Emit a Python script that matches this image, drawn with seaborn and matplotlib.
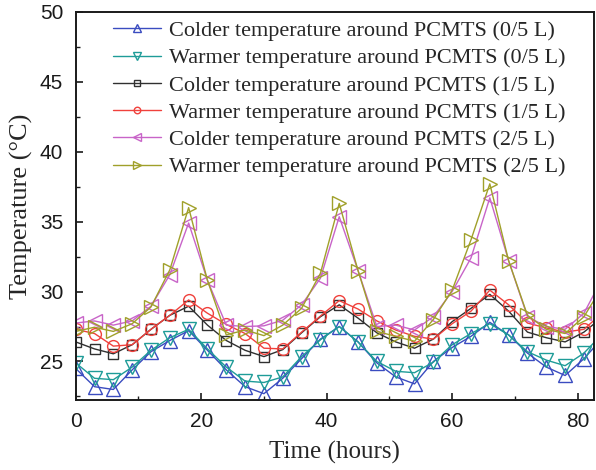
import numpy as np
import pandas as pd
import matplotlib
matplotlib.use("Agg")
import matplotlib.pyplot as plt
import seaborn as sns
from matplotlib.ticker import MultipleLocator

# ---- data ----
hours = [0, 3, 6, 9, 12, 15, 18, 21, 24, 27, 30, 33, 36, 39, 42, 45, 48, 51, 54, 57,
         60, 63, 66, 69, 72, 75, 78, 81, 84]

colder_0_5 = [24.5, 23.2, 23.0, 24.4, 25.7, 26.5, 27.2, 25.8, 24.4, 23.2, 22.7, 23.8, 25.2, 26.6,
              27.5, 26.4, 24.9, 23.9, 23.4, 25.0, 26.0, 26.8, 27.8, 26.9, 25.6, 24.6, 24.0, 25.2, 26.7]
warmer_0_5 = [24.9, 23.8, 23.7, 24.6, 25.8, 26.7, 27.3, 25.9, 24.6, 23.6, 23.5, 23.9, 25.35, 26.55,
              27.5, 26.4, 25.0, 24.3, 24.2, 24.95, 26.2, 27.0, 27.7, 26.9, 25.7, 25.1, 24.7, 25.6, 27.0]
colder_1_5 = [26.4, 25.9, 25.55, 26.2, 27.3, 28.3, 28.95, 27.6, 26.5, 25.8, 25.35, 25.85, 27.05, 28.2,
              29.05, 28.1, 27.05, 26.4, 25.95, 26.6, 27.85, 28.8, 29.8, 28.6, 27.1, 26.7, 26.4, 27.1, 28.2]
warmer_1_5 = [27.3, 27.0, 26.1, 26.2, 27.3, 28.3, 29.4, 28.45, 27.65, 27.0, 25.95, 25.9, 27.1, 28.25,
              29.35, 28.75, 27.9, 27.25, 26.8, 26.6, 27.7, 28.6, 30.1, 29.05, 27.75, 27.4, 27.1, 27.3, 28.5]
colder_2_5 = [27.75, 27.9, 27.6, 27.9, 28.95, 31.2, 34.9, 30.8, 27.6, 27.5, 27.55, 27.95, 29.05, 30.95,
              35.35, 31.5, 27.5, 27.6, 27.25, 28.2, 30.0, 32.4, 36.7, 32.2, 28.2, 27.5, 27.3, 28.45, 31.0]
warmer_2_5 = [27.15, 27.45, 27.15, 27.7, 28.9, 31.55, 36.0, 30.8, 26.9, 27.25, 26.85, 27.6, 28.8, 31.3,
              36.3, 31.5, 27.15, 26.8, 26.45, 28.0, 30.1, 33.7, 37.7, 32.2, 28.3, 27.3, 27.0, 28.2, 30.4]

series_labels = [
    "Colder temperature around PCMTS (0/5 L)",
    "Warmer temperature around PCMTS (0/5 L)",
    "Colder temperature around PCMTS (1/5 L)",
    "Warmer temperature around PCMTS (1/5 L)",
    "Colder temperature around PCMTS (2/5 L)",
    "Warmer temperature around PCMTS (2/5 L)",
]
series_values = [colder_0_5, warmer_0_5, colder_1_5, warmer_1_5, colder_2_5, warmer_2_5]

# ---- styles ----
colors = ["#3a4cc0", "#1e9c98", "#303030", "#f0413c", "#c864c8", "#a0a02a"]
markers = ["^", "v", "s", "o", "<", ">"]
msizes = [9.5, 9.5, 7, 8.5, 9.5, 9.5]

sns.set_theme(style="white")
plt.rcParams["font.family"] = ["Liberation Sans", "DejaVu Sans"]

fig = plt.figure(figsize=(5.96, 4.70), dpi=100)
ax = fig.add_axes([0.127, 0.149, 0.8696, 0.826])

for lab, vals, c, m, ms in zip(series_labels, series_values, colors, markers, msizes):
    df = pd.DataFrame({"Time": hours, "Temp": vals})
    sns.lineplot(data=df, x="Time", y="Temp", ax=ax, color=c, marker=m, markersize=ms,
                 markerfacecolor="none", markeredgecolor=c, markeredgewidth=1.0,
                 linewidth=1.0, label=lab)

ax.set_xlim(0, 82.6)
ax.set_ylim(22.25, 50)
ax.xaxis.set_major_locator(MultipleLocator(20))
ax.xaxis.set_minor_locator(MultipleLocator(10))
ax.yaxis.set_major_locator(MultipleLocator(5))
ax.yaxis.set_minor_locator(MultipleLocator(2.5))
ax.tick_params(axis="both", which="both", direction="in", top=False, right=False,
               labelsize=15, colors="#1a1a1a")
ax.tick_params(which="major", length=5, width=1.2, bottom=True, left=True)
ax.tick_params(which="minor", length=3, width=1.0, bottom=True, left=True)
ax.tick_params(axis="x", which="both", pad=9)
ax.tick_params(axis="y", which="both", pad=9)
for sp in ax.spines.values():
    sp.set_visible(True)
    sp.set_color("#1a1a1a")
    sp.set_linewidth(1.4)

serif = ["Liberation Serif", "DejaVu Serif"]
ax.set_xlabel("Time (hours)", fontsize=18, family=serif, labelpad=7)
ax.set_ylabel("Temperature (°C)", fontsize=19, family=serif, labelpad=5)

leg = ax.legend(loc="upper left", bbox_to_anchor=(0.054, 1.0), frameon=False,
                prop={"family": serif, "size": 16}, markerscale=0.55,
                handlelength=2.2, handletextpad=0.35, labelspacing=0.3,
                borderaxespad=0.0)

fig.savefig("out.png", dpi=100)
